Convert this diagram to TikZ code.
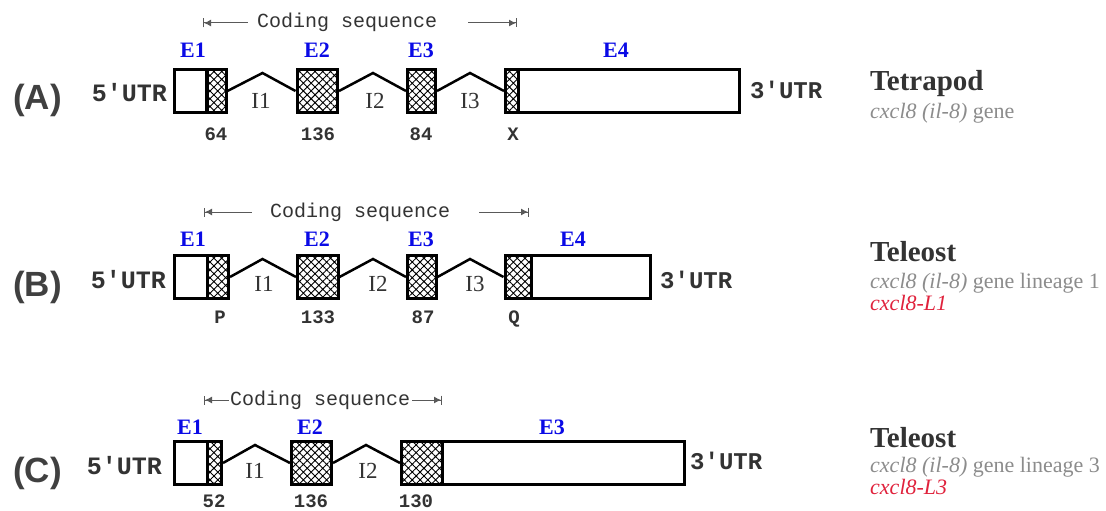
\documentclass[tikz,border=0pt]{standalone}
\usepackage{fontspec}
\setmainfont{Liberation Serif}
\setsansfont{Liberation Sans}
\setmonofont{Liberation Mono}
\usetikzlibrary{patterns.meta,arrows.meta}
\definecolor{txt}{HTML}{333333}
\definecolor{ecol}{RGB}{10,10,230}
\definecolor{gry}{HTML}{8C8C8C}
\definecolor{redl}{HTML}{E0223C}
\begin{document}
\begin{tikzpicture}[x=1pt,y=-1pt,
  box/.style={draw, line width=3pt, inner sep=0pt, minimum height=43pt, anchor=west, rectangle},
  cds/.style={box, pattern={Hatch[angle=45,distance=5.5pt,line width=0.9pt]}, pattern color=black},
  intron/.style={line width=2.5pt, line join=miter},
  elab/.style={font=\fontsize{22}{22}\selectfont\bfseries, text=ecol, inner sep=0pt, anchor=base},
  ilab/.style={font=\fontsize{23}{23}\selectfont, text=txt, inner sep=0pt, anchor=base},
  num/.style={font=\fontsize{19}{19}\selectfont\ttfamily\bfseries, text=txt, inner sep=0pt, anchor=base},
  utrl/.style={font=\fontsize{25}{25}\selectfont\ttfamily\bfseries, text=txt, inner sep=0pt, anchor=base east},
  utrr/.style={font=\fontsize{24}{24}\selectfont\ttfamily\bfseries, text=txt, inner sep=0pt, anchor=base west},
  panel/.style={font=\fontsize{35}{35}\selectfont\sffamily\bfseries, text=black!75, inner sep=0pt, anchor=base west},
  cstext/.style={font=\fontsize{20}{20}\selectfont\ttfamily, text=txt, inner sep=0pt, anchor=base west},
  csarrow/.style={draw=black!65, line width=1pt},
  ltip/.style={{Bar[width=9pt,line width=1pt]Latex[length=7pt,width=7pt]}-},
  rtip/.style={-{Latex[length=7pt,width=7pt]Bar[width=9pt,line width=1pt]}},
  title/.style={font=\fontsize{29}{29}\selectfont\bfseries, text=txt, inner sep=0pt, anchor=base west},
  sub/.style={font=\fontsize{22}{22}\selectfont, text=gry, inner sep=0pt, anchor=base west},
  lin/.style={font=\fontsize{22}{22}\selectfont\itshape, text=redl, inner sep=0pt, anchor=base west}
]
\useasboundingbox[fill=white] (0,0) rectangle (1106,511);

% ---------------- Row A ----------------
\node[panel] (pA) at (13,110) {(A)};
\node[utrl] (l5A) at (167,102) {5′UTR};
\coordinate (csA1) at (203,23);
\coordinate (csA2) at (248,23);
\coordinate (csA3) at (468,23);
\coordinate (csA4) at (517,23);
\node[cstext] (csA) at (257,28) {Coding sequence};
\draw[csarrow,ltip] (csA1) -- (csA2);
\draw[csarrow,rtip] (csA3) -- (csA4);

\node[box, minimum width=33.5pt] (u5A) at (172.5,91) {};
\node[cds, minimum width=20.5pt] (e1A) at (206,91) {};
\node[cds, minimum width=40.5pt] (e2A) at (295.5,91) {};
\node[cds, minimum width=28pt] (e3A) at (406,91) {};
\node[cds, minimum width=13pt] (e4A) at (504,91) {};
\node[box, minimum width=220.5pt] (u3A) at (517,91) {};
\draw[intron] (e1A.east) -- (262.5,73) -- (e2A.west);
\draw[intron] (e2A.east) -- (373,73) -- (e3A.west);
\draw[intron] (e3A.east) -- (470,73) -- (e4A.west);

\node[elab] (E1A) at (193,58) {E1};
\node[elab] (E2A) at (317,58) {E2};
\node[elab] (E3A) at (421,58) {E3};
\node[elab] (E4A) at (616,58) {E4};
\node[ilab] (I1A) at (261,108) {I1};
\node[ilab] (I2A) at (375,108) {I2};
\node[ilab] (I3A) at (470,108) {I3};
\node[num] (nA1) at (216,140) {64};
\node[num] (nA2) at (318,140) {136};
\node[num] (nA3) at (421,140) {84};
\node[num] (nA4) at (513,140) {X};
\node[utrr] (r3A) at (750,99) {3′UTR};
\node[title] (tA) at (870,90) {Tetrapod};
\node[sub] (sA) at (870,118) {\textit{cxcl8 (il-8)} gene};

% ---------------- Row B ----------------
\node[panel] (pB) at (13,296) {(B)};
\node[utrl] (l5B) at (166,288) {5′UTR};
\coordinate (csB1) at (204,212);
\coordinate (csB2) at (252,212);
\coordinate (csB3) at (479,212);
\coordinate (csB4) at (529,212);
\node[cstext] (csB) at (270,217) {Coding sequence};
\draw[csarrow,ltip] (csB1) -- (csB2);
\draw[csarrow,rtip] (csB3) -- (csB4);

\node[box, minimum width=33.5pt] (u5B) at (172.5,277) {};
\node[cds, minimum width=21pt] (e1B) at (206,277) {};
\node[cds, minimum width=40.5pt] (e2B) at (296,277) {};
\node[cds, minimum width=28.5pt] (e3B) at (406,277) {};
\node[cds, minimum width=26.5pt] (e4B) at (503.5,277) {};
\node[box, minimum width=118.5pt] (u3B) at (530,277) {};
\draw[intron] (e1B.east) -- (262.5,259) -- (e2B.west);
\draw[intron] (e2B.east) -- (373,259) -- (e3B.west);
\draw[intron] (e3B.east) -- (470,259) -- (e4B.west);

\node[elab] (E1B) at (193,246) {E1};
\node[elab] (E2B) at (317,246) {E2};
\node[elab] (E3B) at (421,246) {E3};
\node[elab] (E4B) at (573,246) {E4};
\node[ilab] (I1B) at (264,291) {I1};
\node[ilab] (I2B) at (378,291) {I2};
\node[ilab] (I3B) at (475,291) {I3};
\node[num] (nB1) at (220,323) {P};
\node[num] (nB2) at (318,323) {133};
\node[num] (nB3) at (423,323) {87};
\node[num] (nB4) at (514,323) {Q};
\node[utrr] (r3B) at (660,288) {3′UTR};
\node[title] (tB) at (870,261) {Teleost};
\node[sub] (sB) at (870,288) {\textit{cxcl8 (il-8)} gene lineage 1};
\node[lin] (lB) at (870,310) {cxcl8-L1};

% ---------------- Row C ----------------
\node[panel] (pC) at (13,482) {(C)};
\node[utrl] (l5C) at (162,474) {5′UTR};
\coordinate (csC1) at (204,400);
\coordinate (csC2) at (229,400);
\coordinate (csC3) at (412,400);
\coordinate (csC4) at (442,400);
\node[cstext] (csC) at (230,405) {Coding sequence};
\draw[csarrow,ltip] (csC1) -- (csC2);
\draw[csarrow,rtip] (csC3) -- (csC4);

\node[box, minimum width=33.5pt] (u5C) at (172.5,463) {};
\node[cds, minimum width=14pt] (e1C) at (206,463) {};
\node[cds, minimum width=40pt] (e2C) at (290,463) {};
\node[cds, minimum width=41pt] (e3C) at (400,463) {};
\node[box, minimum width=242pt] (u3C) at (441,463) {};
\draw[intron] (e1C.east) -- (255,445) -- (e2C.west);
\draw[intron] (e2C.east) -- (366,445) -- (e3C.west);

\node[elab] (E1C) at (190,434) {E1};
\node[elab] (E2C) at (310,434) {E2};
\node[elab] (E3C) at (552,434) {E3};
\node[ilab] (I1C) at (255,478) {I1};
\node[ilab] (I2C) at (368,478) {I2};
\node[num] (nC1) at (214,507) {52};
\node[num] (nC2) at (311,507) {136};
\node[num] (nC3) at (416,507) {130};
\node[utrr] (r3C) at (690,469) {3′UTR};
\node[title] (tC) at (870,447) {Teleost};
\node[sub] (sC) at (870,472) {\textit{cxcl8 (il-8)} gene lineage 3};
\node[lin] (lC) at (870,494) {cxcl8-L3};
\end{tikzpicture}
\end{document}
